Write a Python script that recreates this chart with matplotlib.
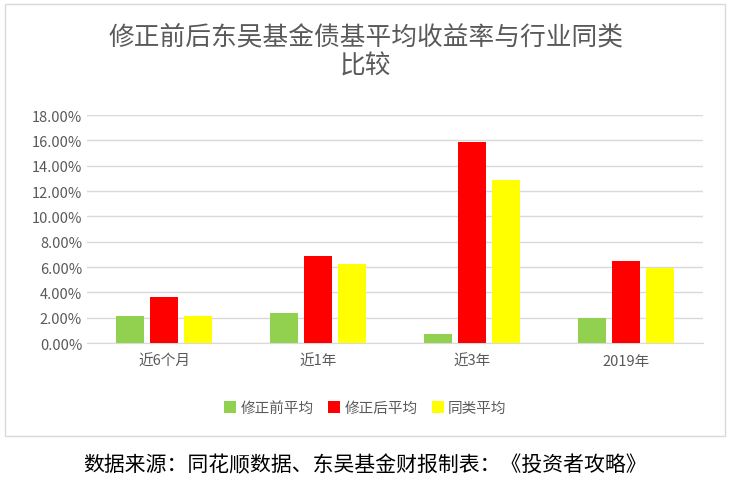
import matplotlib
matplotlib.use("Agg")
import matplotlib.pyplot as plt
import numpy as np
from matplotlib.patches import Rectangle
from matplotlib.ticker import FuncFormatter

plt.rcParams['font.family'] = ['Noto Sans CJK SC', 'DejaVu Sans']

categories = ['近6个月', '近1年', '近3年', '2019年']
series_names = ['修正前平均', '修正后平均', '同类平均']
before = [2.15, 2.4, 0.75, 2.0]
after = [3.6, 6.85, 15.9, 6.5]
peer = [2.15, 6.25, 12.9, 5.95]
colors = ['#92d050', '#ff0000', '#ffff00']

fig = plt.figure(figsize=(7.31, 4.85), dpi=100)
fig.patches.append(Rectangle((5/731, 1-437/485), 720/731, 432/485, transform=fig.transFigure,
                             fill=False, edgecolor='#d9d9d9', linewidth=1))
ax = fig.add_axes([87/731, 1-344/485, 616/731, 228/485])
x = np.arange(len(categories))
w = 0.18
off = 0.22
for i, (vals, c, n) in enumerate(zip([before, after, peer], colors, series_names)):
    ax.bar(x + (i-1)*off, vals, w, color=c, label=n, zorder=3)
ax.set_xlim(-0.5, 3.5)
ax.set_ylim(0, 18)
ax.set_yticks(np.arange(0, 18.1, 2))
ax.yaxis.set_major_formatter(FuncFormatter(lambda v, p: f'{v:.2f}%'))
ax.set_xticks(x)
ax.set_xticklabels(categories)
ax.grid(axis='y', color='#d9d9d9', linewidth=1, zorder=0)
for s in ['top', 'right', 'left']:
    ax.spines[s].set_visible(False)
ax.spines['bottom'].set_color('#d9d9d9')
ax.tick_params(length=0, labelsize=10.5, colors='#595959')
ax.tick_params(axis='x', pad=8)
fig.text(0.5, 1-52/485, '修正前后东吴基金债基平均收益率与行业同类\n比较', ha='center', va='center',
         fontsize=18.5, color='#595959', linespacing=1.15)
fig.legend(loc='center', bbox_to_anchor=(0.5, 1-409/485), ncol=3, frameon=False,
           fontsize=10.5, handlelength=0.8, handleheight=0.8, columnspacing=1.0, handletextpad=0.3,
           labelcolor='#595959')
fig.text(0.5, 1-465/485, '数据来源：同花顺数据、东吴基金财报制表：《投资者攻略》', ha='center', va='center',
         fontsize=15, color='black')
fig.savefig('out.png', dpi=100)
